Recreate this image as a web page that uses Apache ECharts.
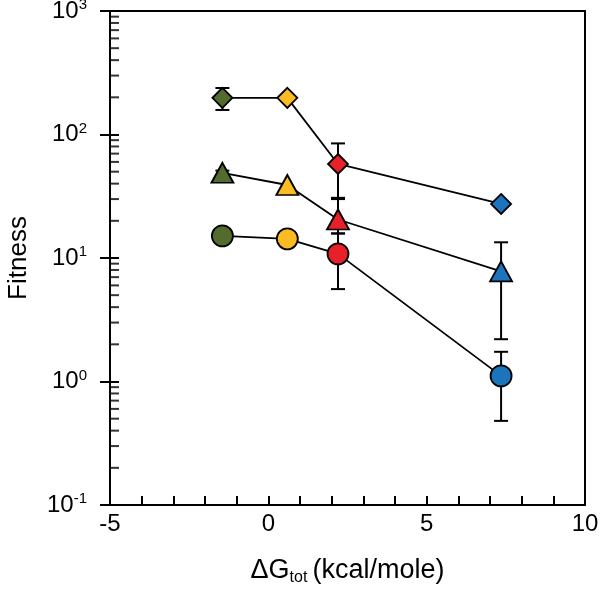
<!DOCTYPE html>
<html><head><meta charset="utf-8">
<script src="https://cdn.jsdelivr.net/npm/echarts@6/dist/echarts.min.js"></script>
<style>html,body{margin:0;padding:0;background:#fff}#c{width:600px;height:589px}</style>
</head><body><div id="c"></div>
<script>
// Data
const xValues = [-1.45, 0.6, 2.2, 7.35];
const pointColors = ['#546b2e', '#fbbb22', '#e8202a', '#1c75bc'];
const diamondY = [198, 198, 57.7, 27.4];
const diamondLow = [158, 198, 30.7, 27.4];
const diamondHigh = [238, 198, 84.7, 27.4];
const triangleY = [49, 39, 20.5, 7.8];
const triangleLow = [47, 39, 15.8, 2.2];
const triangleHigh = [51, 39, 30.0, 13.4];
const circleY = [15.1, 14.3, 10.8, 1.11];
const circleLow = [15.1, 14.3, 5.6, 0.48];
const circleHigh = [15.1, 14.3, 15.8, 1.74];
const xTicks = [-5, 0, 5, 10];
const yTicks = [0.1, 1, 10, 100, 1000];

const FONT = '"Liberation Sans", Arial, sans-serif';
const LW = 2;
const chart = echarts.init(document.getElementById('c'), null, {renderer: 'canvas'});

function errData(lo, hi) { return xValues.map((x, i) => [x, lo[i], hi[i]]); }
function errSeries(lo, hi) {
  return {
    type: 'custom', z: 1, silent: true,
    data: errData(lo, hi),
    renderItem: function (params, api) {
      const x = api.value(0), lo = api.value(1), hi = api.value(2);
      if (lo === hi) return null;
      const pLo = api.coord([x, lo]), pHi = api.coord([x, hi]);
      const w = 7;
      const st = {stroke: '#000', lineWidth: 2};
      return {type: 'group', children: [
        {type: 'line', shape: {x1: pLo[0], y1: pLo[1], x2: pHi[0], y2: pHi[1]}, style: st},
        {type: 'line', shape: {x1: pLo[0] - w, y1: pLo[1], x2: pLo[0] + w, y2: pLo[1]}, style: st},
        {type: 'line', shape: {x1: pHi[0] - w, y1: pHi[1], x2: pHi[0] + w, y2: pHi[1]}, style: st}
      ]};
    }
  };
}
function lineSeries(ys, symbol, size) {
  return {
    type: 'line', z: 3, symbol: symbol, symbolSize: size,
    data: xValues.map((x, i) => [x, ys[i]]),
    lineStyle: {color: '#000', width: 1.8},
    itemStyle: {color: p => pointColors[p.dataIndex], borderColor: '#000', borderWidth: 1.8, opacity: 1},
    emphasis: {disabled: true},
    animation: false
  };
}
// minor log ticks (inside) on the y axis
const minorTickData = [];
for (let e = -1; e < 3; e++) {
  for (let k = 2; k <= 9; k++) minorTickData.push([-5, k * Math.pow(10, e)]);
}
chart.setOption({
  animation: false,
  grid: {left: 110, right: 15, top: 11, bottom: 84, outerBoundsMode: 'none', containLabel: false,
    show: true, borderColor: '#000', borderWidth: LW, backgroundColor: 'transparent'},
  xAxis: {
    type: 'value', min: -5, max: 10, interval: 5,
    axisLine: {show: true, onZero: false, lineStyle: {color: '#000', width: LW}},
    axisTick: {show: true, inside: true, length: 9, lineStyle: {color: '#000', width: LW}},
    minorTick: {show: true, splitNumber: 5, length: 9, lineStyle: {color: '#000', width: LW}},
    splitLine: {show: false},
    axisLabel: {color: '#000', fontSize: 24, fontFamily: FONT, margin: 7,
      formatter: v => xTicks.includes(v) ? String(v) : ''},
    name: '{m|ΔG}{s|tot}{m|(kcal/mole)}', nameLocation: 'middle', nameGap: 50,
    nameTextStyle: {rich: {
      m: {fontSize: 27, fontFamily: FONT, color: '#000'},
      s: {fontSize: 16, fontFamily: FONT, color: '#000', verticalAlign: 'bottom', padding: [15, 5, 0, 0]}
    }}
  },
  yAxis: [{
    type: 'log', min: 0.1, max: 1000, logBase: 10,
    axisLine: {show: true, onZero: false, lineStyle: {color: '#000', width: LW}},
    axisTick: {show: true, inside: false, length: 10, lineStyle: {color: '#000', width: LW}},
    splitLine: {show: false},
    axisLabel: {margin: 23, formatter: function (v) {
      const e = Math.round(Math.log10(v));
      return '{b|10}{s|' + e + '}';
    }, rich: {
      b: {fontSize: 24, fontFamily: FONT, color: '#000'},
      s: {fontSize: 15, fontFamily: FONT, color: '#000', verticalAlign: 'top', padding: [0, 0, 12, 0]}
    }},
    name: 'Fitness', nameLocation: 'middle', nameGap: 78, nameRotate: 90,
    nameTextStyle: {fontSize: 26, fontFamily: FONT, color: '#000'}
  }, {
    type: 'log', min: 0.1, max: 1000, logBase: 10, position: 'left',
    axisLine: {show: false, onZero: false},
    axisTick: {show: true, inside: true, length: 9, lineStyle: {color: '#000', width: LW}},
    axisLabel: {show: false}, splitLine: {show: false}
  }],
  series: [
    {type: 'scatter', silent: true, z: 0, symbol: 'rect', symbolSize: [9, LW], symbolOffset: [4.5, 0],
     itemStyle: {color: '#000'}, data: minorTickData, clip: false},
    errSeries(diamondLow, diamondHigh),
    errSeries(triangleLow, triangleHigh),
    errSeries(circleLow, circleHigh),
    lineSeries(diamondY, 'diamond', [20, 20]),
    lineSeries(triangleY, 'triangle', [22, 20]),
    lineSeries(circleY, 'circle', 21)
  ]
});
</script>
</body></html>
